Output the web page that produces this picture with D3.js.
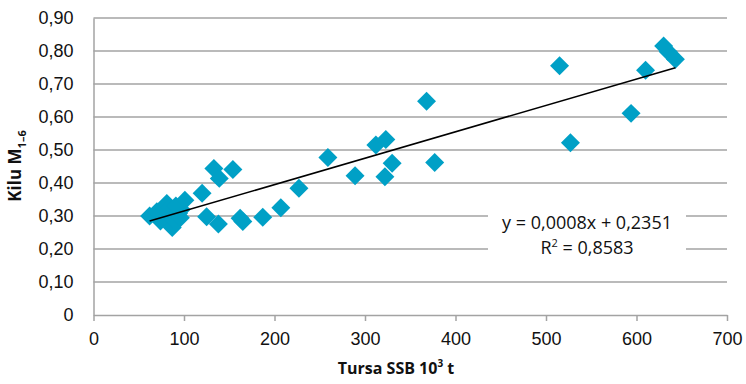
<!DOCTYPE html>
<html>
<head>
<meta charset="utf-8">
<script src="https://cdn.jsdelivr.net/npm/d3@7"></script>
<style>
  body { margin: 0; background: #fff; }
  svg { display: block; font-family: "Open Sans", sans-serif; }
</style>
</head>
<body>
<div id="root"></div>
<script>
// Tursa SSB (10^3 t) vs Kilu M1-6
const ssb = [62, 68, 70, 74, 76, 79, 81, 84, 87, 88, 91, 94, 96, 97, 101,
  120, 125, 133, 139, 138, 154, 162, 165, 187, 207, 227, 259, 289,
  312, 323, 322, 330, 377, 368, 515, 527, 594, 610, 630, 635, 643];
const mort = [0.30, 0.305, 0.313, 0.285, 0.32, 0.298, 0.338, 0.325, 0.265, 0.29, 0.33, 0.308, 0.295, 0.32, 0.348,
  0.369, 0.298, 0.444, 0.414, 0.276, 0.441, 0.293, 0.283, 0.296, 0.325, 0.384, 0.477, 0.422,
  0.515, 0.532, 0.419, 0.46, 0.462, 0.648, 0.755, 0.522, 0.611, 0.742, 0.815, 0.798, 0.775];

const xTicks = [0, 100, 200, 300, 400, 500, 600, 700];
const yTicks = [0, 0.1, 0.2, 0.3, 0.4, 0.5, 0.6, 0.7, 0.8, 0.9];
const slope = 0.0008;
const intercept = 0.2351;
const eqText = "y = 0,0008x + 0,2351";
const r2Text = "0,8583";

const width = 746;
const height = 384;
const margin = { top: 18, right: 19, bottom: 69, left: 93.5 };
const grid = "#a3a3a3";
const blue = "#00a0c6";

const x = d3.scaleLinear([0, 700], [margin.left, width - margin.right]);
const y = d3.scaleLinear([0, 0.9], [height - margin.bottom, margin.top]);
const fmtY = d => d === 0 ? "0" : d3.format(".2f")(d).replace(".", ",");

const svg = d3.select("#root").append("svg")
  .attr("width", width)
  .attr("height", height);

// gridlines
svg.append("g")
  .selectAll("line")
  .data(yTicks.slice(1))
  .join("line")
  .attr("x1", x(0))
  .attr("x2", x(700))
  .attr("y1", d => y(d))
  .attr("y2", d => y(d))
  .attr("stroke", grid)
  .attr("stroke-width", 1.5);

// axes
const xAxis = svg.append("g")
  .attr("transform", `translate(0, ${y(0)})`)
  .call(d3.axisBottom(x).tickValues(xTicks).tickSize(6).tickPadding(11).tickSizeOuter(0));
xAxis.select(".domain").attr("stroke", grid).attr("stroke-width", 1.5);
xAxis.selectAll(".tick line").attr("stroke", grid).attr("stroke-width", 1.5);
xAxis.selectAll("text").attr("font-size", 18).attr("fill", "#111");

const yAxis = svg.append("g")
  .attr("transform", `translate(${x(0)}, 0)`)
  .call(d3.axisLeft(y).tickValues(yTicks).tickSize(0).tickPadding(20).tickFormat(fmtY));
yAxis.select(".domain").attr("stroke", grid).attr("stroke-width", 1.5);
yAxis.selectAll("text").attr("font-size", 18).attr("fill", "#111");

// points
const points = ssb.map((v, i) => [v, mort[i]]);
svg.append("g")
  .selectAll("path")
  .data(points)
  .join("path")
  .attr("d", d3.symbol(d3.symbolSquare, 180))
  .attr("transform", d => `translate(${x(d[0])}, ${y(d[1])}) rotate(45)`)
  .attr("fill", blue);

// trendline
const [xMin, xMax] = d3.extent(ssb);
svg.append("line")
  .attr("x1", x(xMin))
  .attr("y1", y(slope * xMin + intercept))
  .attr("x2", x(xMax))
  .attr("y2", y(slope * xMax + intercept))
  .attr("stroke", "#000")
  .attr("stroke-width", 1.6);

// equation label
svg.append("rect")
  .attr("x", 488)
  .attr("y", 207)
  .attr("width", 198)
  .attr("height", 54)
  .attr("fill", "#fff");

svg.append("text")
  .attr("x", 587)
  .attr("y", 229)
  .attr("text-anchor", "middle")
  .attr("font-size", 18)
  .attr("fill", "#111")
  .text(eqText);

const r2 = svg.append("text")
  .attr("x", 587)
  .attr("y", 254)
  .attr("text-anchor", "middle")
  .attr("font-size", 18)
  .attr("fill", "#111");
r2.append("tspan").text("R");
r2.append("tspan").attr("font-size", 11).attr("dy", -7).text("2");
r2.append("tspan").attr("dy", 7).text(` = ${r2Text}`);

// axis titles
const xTitle = svg.append("text")
  .attr("x", 396)
  .attr("y", 374)
  .attr("text-anchor", "middle")
  .attr("font-size", 16)
  .attr("font-weight", "bold")
  .attr("fill", "#111");
xTitle.append("tspan").text("Tursa SSB 10");
xTitle.append("tspan").attr("font-size", 10).attr("dy", -7).text("3");
xTitle.append("tspan").attr("dy", 7).text(" t");

const yTitle = svg.append("text")
  .attr("transform", `translate(21, 166) rotate(-90)`)
  .attr("text-anchor", "middle")
  .attr("font-size", 17)
  .attr("font-weight", "bold")
  .attr("fill", "#111");
yTitle.append("tspan").text("Kilu M");
yTitle.append("tspan").attr("font-size", 11).attr("dy", 5).text("1–6");
</script>
</body>
</html>
